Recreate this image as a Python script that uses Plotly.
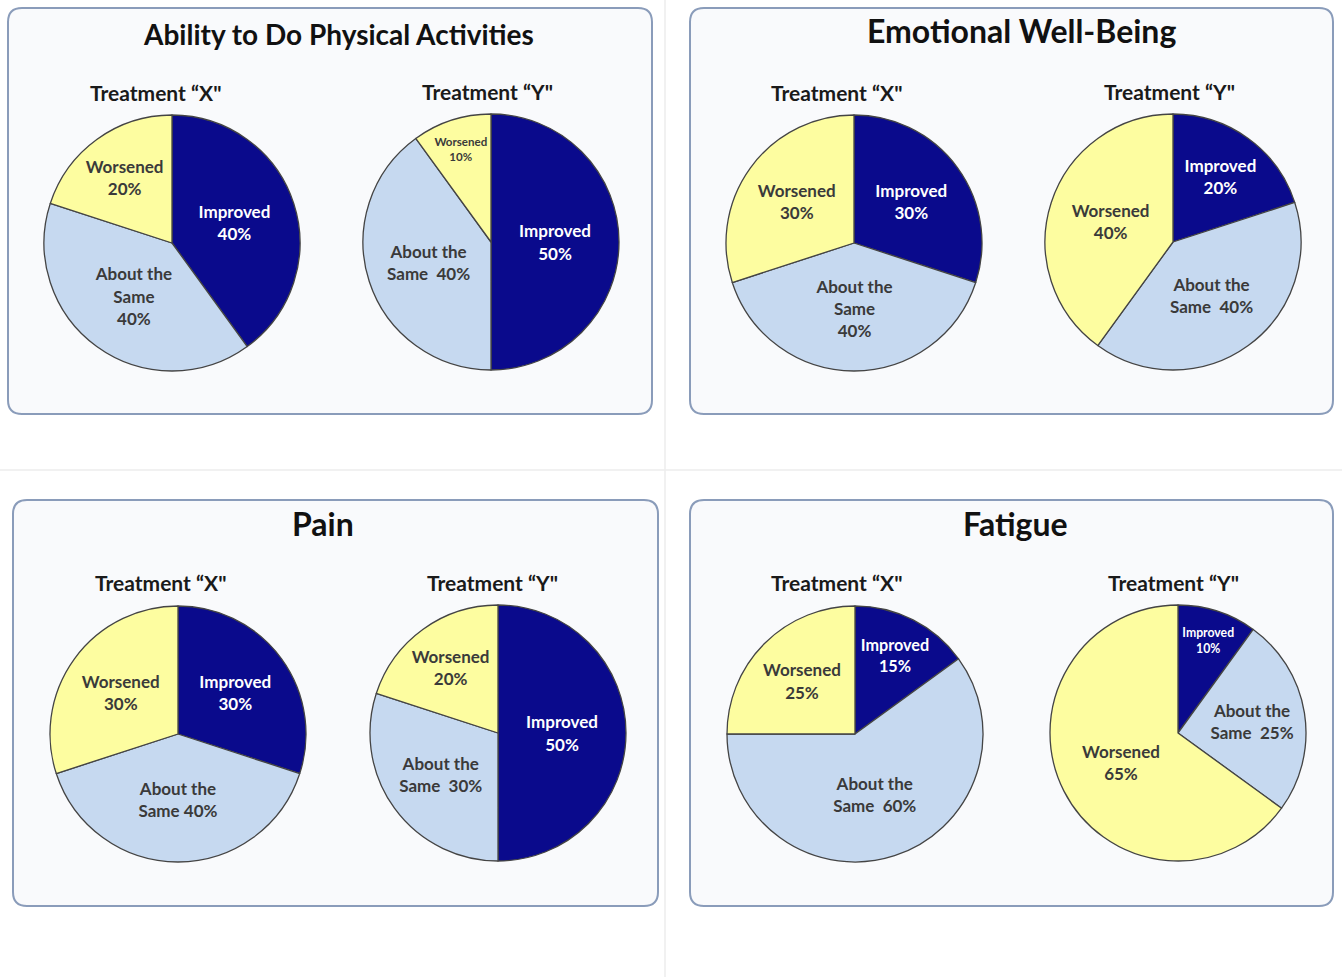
import plotly.graph_objects as go

W, H = 1342, 977

# ---- data -------------------------------------------------------------
categories = ["Improved", "About the Same", "Worsened"]
panel_titles = ["Ability to Do Physical Activities", "Emotional Well-Being", "Pain", "Fatigue"]
treatment_labels = ["Treatment \u201cX\"", "Treatment \u201cY\""]

ability_x = [40, 40, 20]
ability_y = [50, 40, 10]
emotional_x = [30, 40, 30]
emotional_y = [20, 40, 40]
pain_x = [30, 40, 30]
pain_y = [50, 30, 20]
fatigue_x = [15, 60, 25]
fatigue_y = [10, 25, 65]

# how "About the Same" wraps in each pie's label (panel order, X then Y)
same_wrap = ["<br>", "\u00a0\u00a0", "<br>", "\u00a0\u00a0", " ", "\u00a0\u00a0", "\u00a0\u00a0", "\u00a0\u00a0"]

# ---- styling ----------------------------------------------------------
slice_colors = ["#0a0a8c", "#c6d9f0", "#fdfda0"]
text_colors = ["#ffffff", "#3a3a3a", "#3a3a3a"]
FONT = "Lato, 'Open Sans', sans-serif"

# panel boxes in pixels: (x0, y0, x1, y1)
panels = [(8, 8, 652, 414), (690, 8, 1333, 414), (13, 500, 658, 906), (690, 500, 1333, 906)]
# pie centres in pixels and radius
pie_centers = [
    [(172, 243), (491, 242)],
    [(854, 243), (1173, 242)],
    [(178, 734), (498, 733)],
    [(855, 734), (1178, 733)],
]
R = 128
title_pos = [(338, 34), (1021, 31), (323, 523), (1015, 523)]
title_size = [28, 32, 32, 32]
sub_pos = [
    [(155, 92), (487, 91)],
    [(837, 92), (1169, 91)],
    [(160, 582), (492, 582)],
    [(837, 582), (1173, 582)],
]

series = [(ability_x, ability_y), (emotional_x, emotional_y), (pain_x, pain_y), (fatigue_x, fatigue_y)]


def px(x):
    return x / W


def py(y):
    return 1 - y / H


def label_text(values, wrap):
    out = []
    for cat, v in zip(categories, values):
        if cat == "About the Same":
            out.append(f"About the<br>Same{wrap}{v}%")
        else:
            out.append(f"{cat}<br>{v}%")
    return out


def rounded_rect(x0, y0, x1, y1, r=14):
    X0, X1 = px(x0), px(x1)
    Y0, Y1 = py(y1), py(y0)
    rx, ry = r / W, r / H
    return (f"M {X0+rx},{Y1} L {X1-rx},{Y1} Q {X1},{Y1} {X1},{Y1-ry} "
            f"L {X1},{Y0+ry} Q {X1},{Y0} {X1-rx},{Y0} L {X0+rx},{Y0} "
            f"Q {X0},{Y0} {X0},{Y0+ry} L {X0},{Y1-ry} Q {X0},{Y1} {X0+rx},{Y1} Z")


fig = go.Figure()
shapes = []
annotations = []

# faint page dividers
shapes.append(dict(type="line", xref="paper", yref="paper", x0=px(665), x1=px(665), y0=0, y1=1,
                   line=dict(color="#ececec", width=1.5), layer="below"))
shapes.append(dict(type="line", xref="paper", yref="paper", x0=0, x1=1, y0=py(470), y1=py(470),
                   line=dict(color="#ececec", width=1.5), layer="below"))

k = 0
for p, (box, title, vals, centers) in enumerate(zip(panels, panel_titles, series, pie_centers)):
    shapes.append(dict(type="path", xref="paper", yref="paper", path=rounded_rect(*box),
                       fillcolor="#f9fafc", line=dict(color="#8a9cba", width=2), layer="below"))
    tx, ty = title_pos[p]
    annotations.append(dict(text=f"<b>{title}</b>", x=px(tx), y=py(ty),
                            xref="paper", yref="paper", showarrow=False,
                            font=dict(family=FONT, size=title_size[p], color="#111111"),
                            xanchor="center", yanchor="middle"))
    for j, (v, (cx, cy)) in enumerate(zip(vals, centers)):
        fig.add_trace(go.Pie(
            labels=categories, values=v, sort=False, direction="clockwise", rotation=0,
            text=label_text(v, same_wrap[k]), textinfo="text", textposition="inside",
            insidetextorientation="horizontal",
            insidetextfont=dict(family=FONT, size=17, color=text_colors, weight="bold"),
            marker=dict(colors=slice_colors, line=dict(color="#444444", width=1.3)),
            domain=dict(x=[px(cx - R), px(cx + R)], y=[py(cy + R), py(cy - R)]),
            hoverinfo="label+value", showlegend=False,
        ))
        sx, sy = sub_pos[p][j]
        annotations.append(dict(text=f"<b>{treatment_labels[j]}</b>", x=px(sx), y=py(sy),
                                xref="paper", yref="paper", showarrow=False,
                                font=dict(family=FONT, size=21, color="#1a1a1a"),
                                xanchor="center", yanchor="middle"))
        k += 1

fig.update_layout(
    width=W, height=H, autosize=False,
    margin=dict(l=0, r=0, t=0, b=0),
    paper_bgcolor="white", plot_bgcolor="white",
    shapes=shapes, annotations=annotations,
    font=dict(family=FONT),
)

fig.write_html("out.html")
